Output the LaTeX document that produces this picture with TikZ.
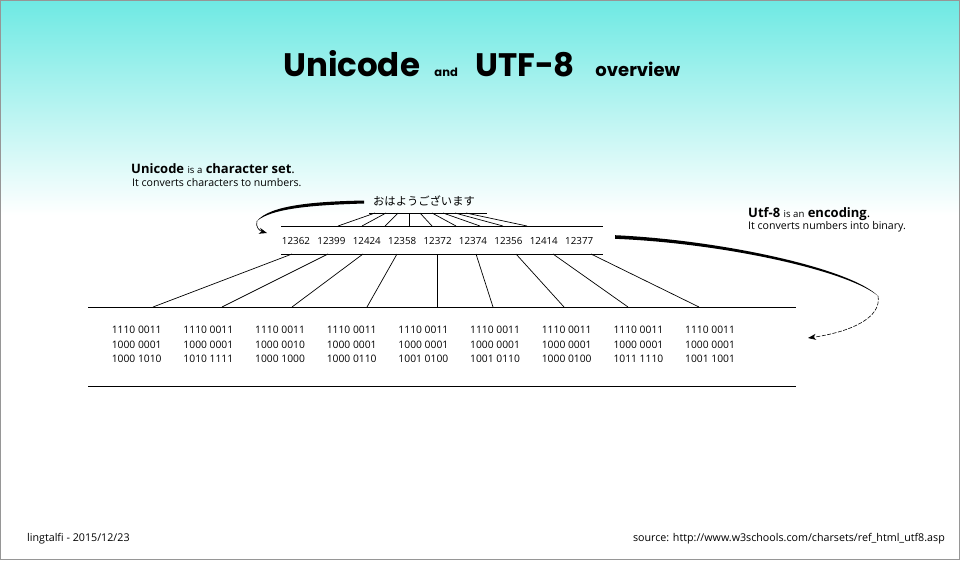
\documentclass[tikz,border=0pt]{standalone}
\usepackage{fontspec}
\setmainfont{Open Sans}
\newfontfamily\titlefont{Poppins}
\newfontfamily\jpfont{Noto Sans CJK JP}
\usepackage{tikz}
\usetikzlibrary{arrows.meta, positioning, calc}

\definecolor{skycyan}{RGB}{110,233,227}
\definecolor{framegray}{RGB}{150,150,150}

\begin{document}
\begin{tikzpicture}[
        x=1pt, y=-1pt,
        band_line/.style={line width=0.9pt},
        fan_line/.style={line width=0.7pt},
        title_big/.style={font=\titlefont\bfseries\fontsize{32.5}{33}\selectfont, inner sep=0, anchor=base west},
        title_small/.style={font=\titlefont\bfseries\fontsize{11.5}{12}\selectfont, inner sep=0, anchor=base west},
        title_mid/.style={font=\titlefont\bfseries\fontsize{18}{18}\selectfont, inner sep=0, anchor=base west},
        note_head/.style={font=\fontsize{13}{14}\selectfont, inner sep=0, anchor=base west},
        note_sub/.style={font=\fontsize{10.6}{12}\selectfont, inner sep=0, anchor=base west},
        cp_num/.style={font=\fontsize{9.8}{12}\selectfont, inner sep=0, anchor=base},
        utf_bits/.style={font=\fontsize{10.3}{14.5}\selectfont, inner sep=0, align=center},
        kana/.style={font=\jpfont\fontsize{11.3}{13}\selectfont, inner sep=0},
        foot_text/.style={font=\fontsize{10.7}{12}\selectfont, inner sep=0},
        brush/.style={fill=black},
        brush_tip/.style={line width=0.6pt, -{Stealth[length=8pt, width=6pt]}}
    ]

    \useasboundingbox (0,0) rectangle (960,560);

    % --- Background ---
    \fill[white] (0,0) rectangle (960,560);
    \shade[top color=skycyan, bottom color=white] (0,0) rectangle (960,215);
    \draw[framegray, line width=1pt] (0.5,0.5) rectangle (959.5,559.5);

    % --- Title ---
    \node[title_big] (t_uni) at (283,76.7) {Unicode};
    \node[title_small] (t_and) at ($(t_uni.base east)+(14,0)$) {and};
    \node[title_big] (t_utf) at ($(t_and.base east)+(17,0)$) {UTF-8};
    \node[title_mid] (t_over) at ($(t_utf.base east)+(20,0)$) {overview};

    % --- Notes ---
    \node[note_head] (uni_head) at (131,173.3) {\textbf{Unicode} {\fontsize{9.6}{10}\selectfont is a} \textbf{character set}.};
    \node[note_sub] (uni_sub) at ($(uni_head.base west)+(1,13)$) {It converts characters to numbers.};
    \node[note_head] (utf_head) at (748,217.3) {\textbf{Utf-8} {\fontsize{9.6}{10}\selectfont is an} \textbf{encoding}.};
    \node[note_sub] (utf_sub) at ($(utf_head.base west)+(0,12.4)$) {It converts numbers into binary.};

    % --- Characters and code points ---
    \node[kana] (greeting) at (424,201) {おはようございます};
    \coordinate (kana_l) at (369,213);
    \coordinate (kana_r) at (487,213);
    \coordinate (band_tl) at (281,226);
    \coordinate (band_tr) at (603,226);
    \coordinate (band_bl) at (281,254);
    \coordinate (band_br) at (603,254);
    \draw[band_line] (kana_l) -- (kana_r);
    \draw[band_line] (band_tl) -- (band_tr);
    \draw[band_line] (band_bl) -- (band_br);

    \foreach \num [count=\k] in {12362,12399,12424,12358,12372,12374,12356,12414,12377}
        \node[cp_num] (cp\k) at ({296+35.4*(\k-1)},244) {\num};

    % fan: characters -> code points
    \foreach \top/\bot [count=\k] in {375/338, 386/362, 398/385, 409/409, 420/432, 432/456, 443/480, 455/503, 466/527} {
        \coordinate (fan_a\k) at (\top,213);
        \coordinate (fan_b\k) at (\bot,226);
        \draw[fan_line] (fan_a\k) -- (fan_b\k);
    }

    % --- Binary ---
    \coordinate (box_tl) at (88,307);
    \coordinate (box_tr) at (796,307);
    \coordinate (box_bl) at (88,386);
    \coordinate (box_br) at (796,386);
    \draw[band_line] (box_tl) -- (box_tr);
    \draw[band_line] (box_bl) -- (box_br);

    \foreach \mid/\low [count=\k] in {0001/1000 1010, 0001/1010 1111, 0010/1000 1000, 0001/1000 0110, 0001/1001 0100, 0001/1001 0110, 0001/1000 0100, 0001/1011 1110, 0001/1001 1001}
        \node[utf_bits] (bits\k) at ({136.7+71.67*(\k-1)},344.5) {1110 0011\\1000 \mid\\\low};

    % fan: code points -> bytes
    \foreach \top/\bot [count=\k] in {292/153, 328/222, 363/292, 397/367, 437/437, 476/493, 516/564, 553/628, 591/699} {
        \coordinate (drop_a\k) at (\top,254);
        \coordinate (drop_b\k) at (\bot,307);
        \draw[fan_line] (drop_a\k) -- (drop_b\k);
    }

    % --- Brush arrows ---
    \coordinate (uni_from) at (364,202);
    \coordinate (uni_bend) at (257,221);
    \coordinate (uni_to) at (267,233);
    \fill[brush] ($(uni_from)+(0,-1.5)$) .. controls (315,201.5) and (270,205) .. (uni_bend)
        .. controls (272,208) and (315,205) .. ($(uni_from)+(0,1.5)$) -- cycle;
    \draw[brush_tip] (uni_bend) .. controls (255,227) and (260,231) .. (uni_to);

    \coordinate (utf_from) at (615,237);
    \coordinate (utf_bend) at (878,296);
    \coordinate (utf_to) at (808,338);
    \fill[brush] ($(utf_from)+(0,-1.8)$) .. controls (720,240) and (850,268) .. (utf_bend)
        .. controls (847,270) and (720,243) .. ($(utf_from)+(0,1.8)$) -- cycle;
    \draw[brush_tip, dash pattern=on 4pt off 1.5pt] (utf_bend) .. controls (882,318) and (850,332) .. (utf_to);

    % --- Footer ---
    \node[foot_text, anchor=base west] (foot_author) at (27,541) {lingtalfi - 2015/12/23};
    \node[foot_text, anchor=base east] (foot_src) at (945,541) {source: http://www.w3schools.com/charsets/ref\_html\_utf8.asp};

\end{tikzpicture}
\end{document}
